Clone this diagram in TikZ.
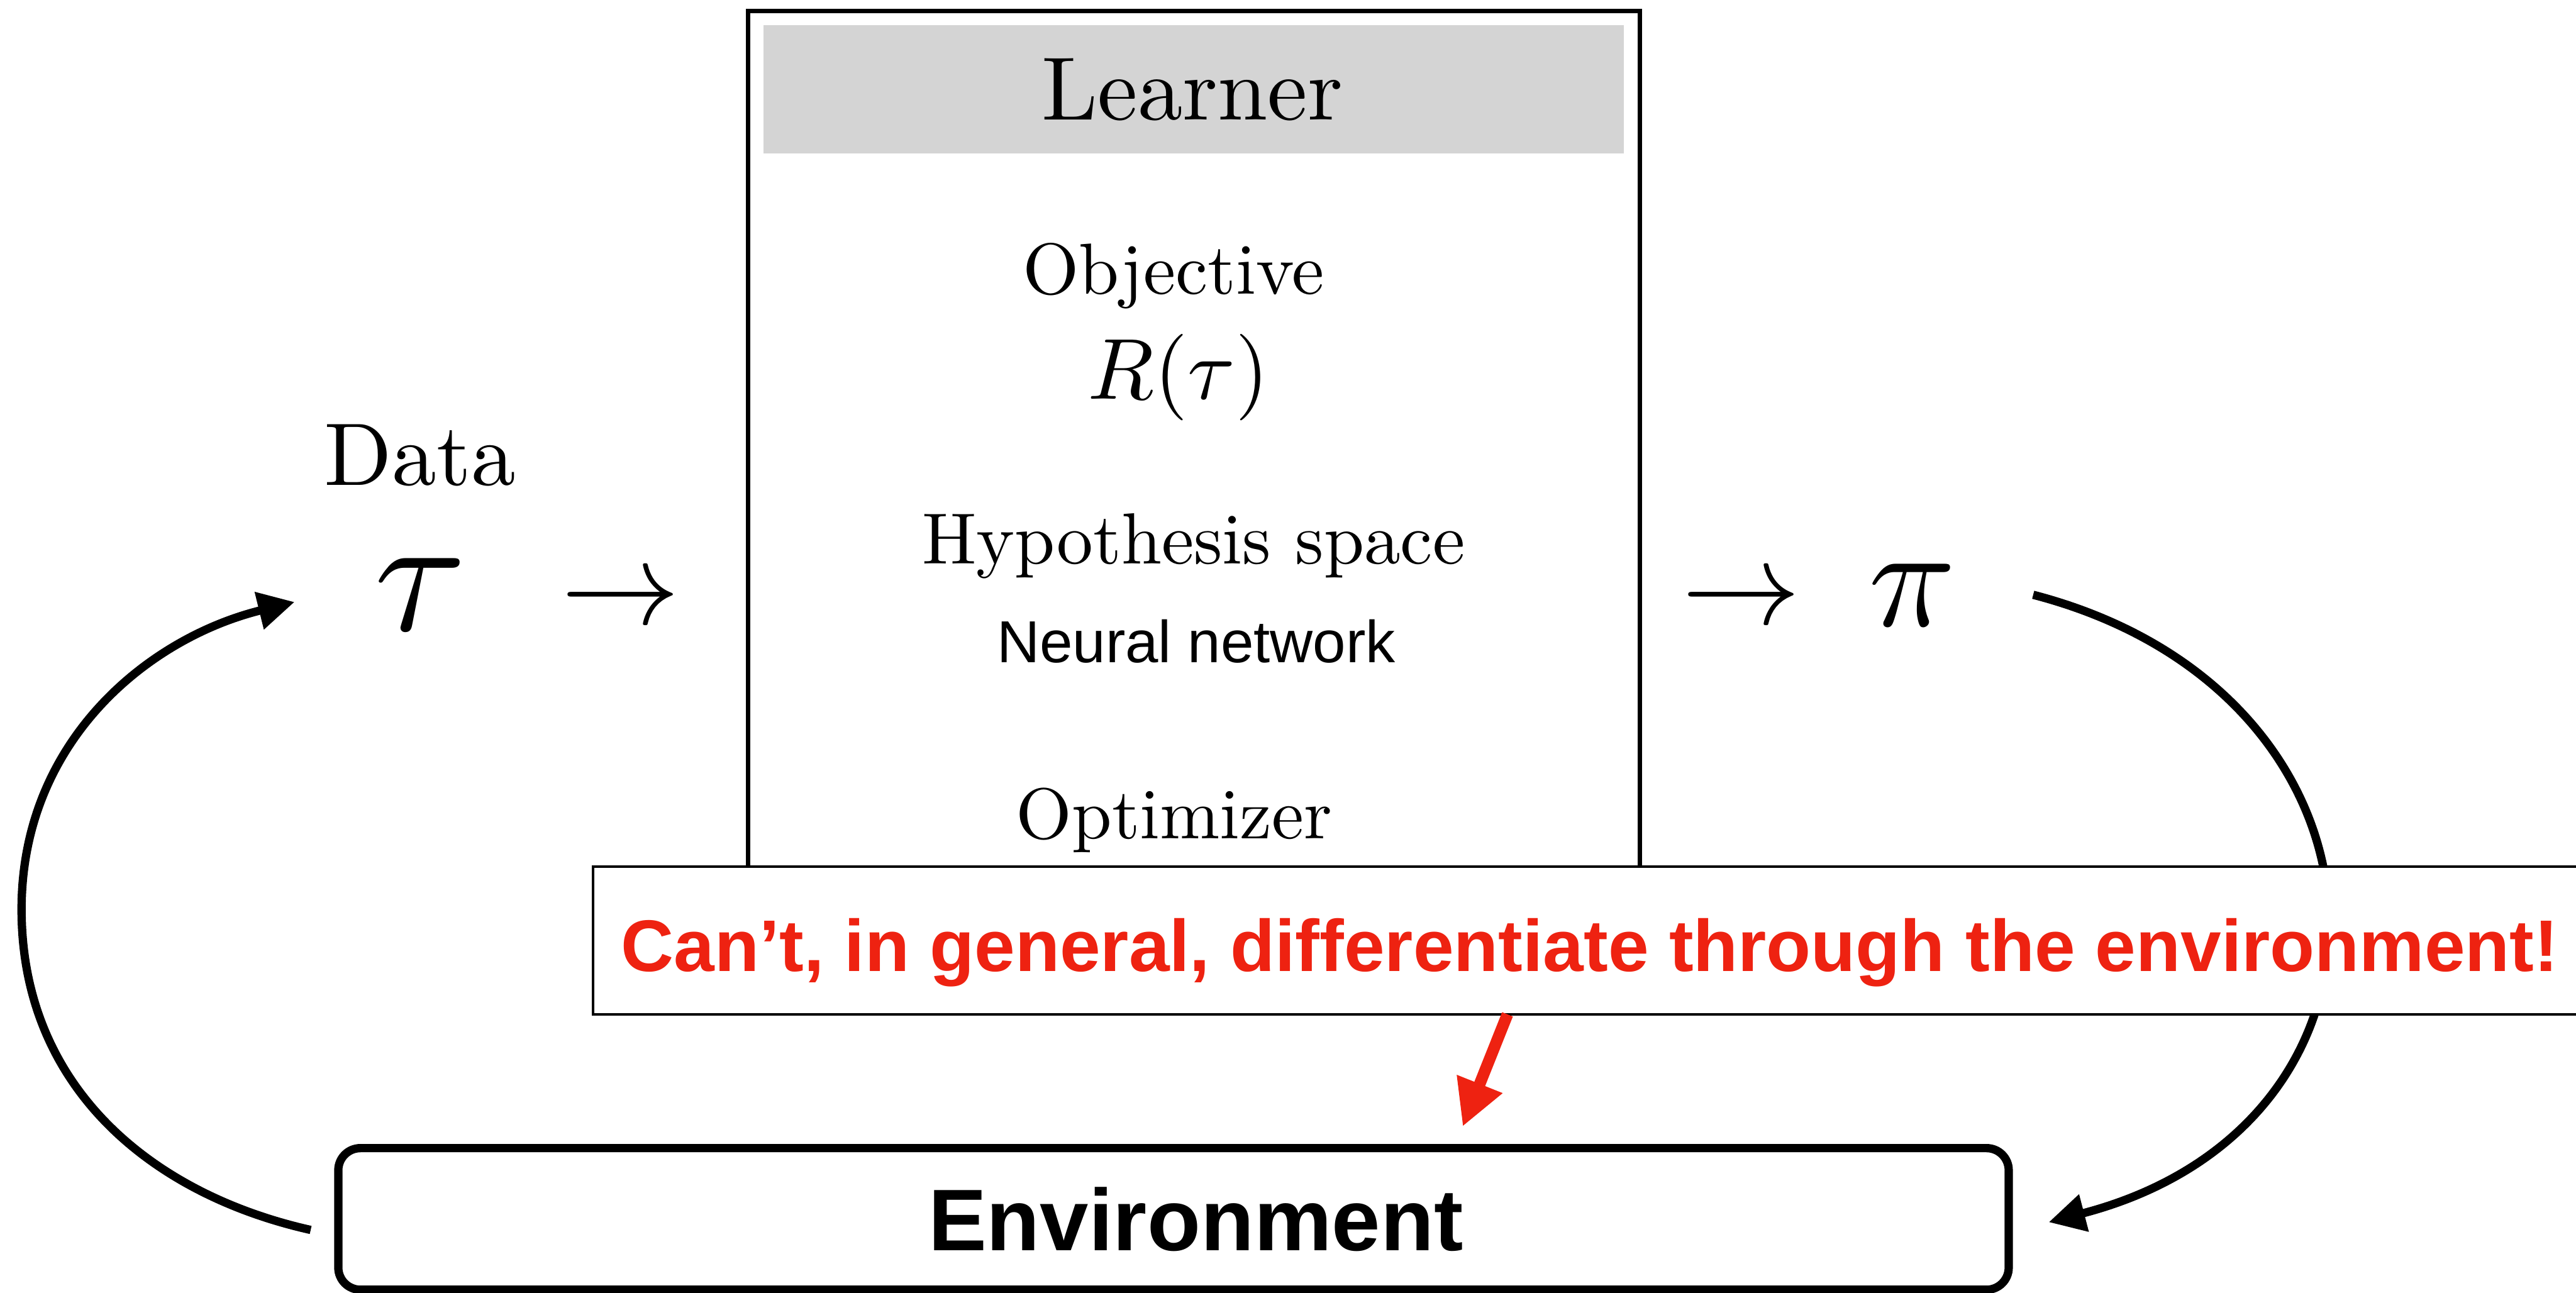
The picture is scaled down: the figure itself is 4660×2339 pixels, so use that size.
\documentclass[tikz,border=0pt]{standalone}
\usepackage{graphicx}
\usepackage{fontspec}
\newfontfamily\helv{Liberation Sans}
\usetikzlibrary{arrows.meta}
\definecolor{alarm}{RGB}{238,34,17}
\definecolor{headgray}{RGB}{212,212,212}

\begin{document}
\begin{tikzpicture}[x=0.01cm, y=-0.01cm,
  txt/.style={inner sep=0pt, outer sep=0pt, anchor=base},
  frame/.style={draw, outer sep=0pt, inner sep=0pt, anchor=north west},
  loop/.style={line width=0.15cm, -{Triangle[length=0.66cm,width=0.66cm]}},
  warnarrow/.style={line width=0.21cm, alarm, -{Triangle[length=0.83cm,width=0.83cm]}},
]
\clip (0,0) rectangle (4660,2339);
\fill[white] (0,0) rectangle (4660,2339);

% Learner block with its grey header
\node[frame, line width=0.08cm, minimum width=16.13cm, minimum height=17cm] (learner) at (1353,20) {};
\node[anchor=north west, fill=headgray, minimum width=15.56cm, minimum height=2.31cm,
      inner sep=0pt, outer sep=0pt] (head) at (1381,46) {};
\node[txt] (title) at (2157,217) {\scalebox{4.62}{Learner}};

\node[txt] (objective) at (2123,532) {\scalebox{3.72}{Objective}};
\node[txt] (reward) at (2132,722) {\scalebox{4.45}{$R(\tau)$}};
\node[txt] (hyp) at (2159,1020) {\scalebox{3.73}{Hypothesis space}};
\node[txt] (nn) at (2164,1198) {\helv\fontsize{30.5}{36}\selectfont Neural network};
\node[txt] (optim) at (2124,1517) {\scalebox{3.7}{Optimizer}};

% data in, policy out
\node[txt] (data) at (760,878) {\scalebox{4.57}{Data}};
\node[txt] (tau) at (761,1140) {\scalebox{8.6}{$\tau$}};
\node[txt] (arrin) at (1123,1129) {\scalebox{6.1}{$\rightarrow$}};
\node[txt] (arrout) at (3150,1129) {\scalebox{6.1}{$\rightarrow$}};
\node[txt] (pi) at (3459,1133) {\scalebox{7.4}{$\pi$}};

% loop end points
\coordinate (piOut) at (3678,1076);
\coordinate (envIn) at (3706,2211);
\coordinate (envOut) at (562,2225);
\coordinate (leftBend) at (39,1645);
\coordinate (tauIn) at (533,1089);

\draw[loop] (piOut) .. controls (4362,1254) and (4390,2033) .. (envIn);
\draw[loop] (envOut) .. controls (272,2160) and (39,1965) .. (leftBend)
            .. controls (39,1340) and (269,1154) .. (tauIn);

% warning banner
\node[frame, fill=white, line width=0.05cm, minimum width=36.3cm, minimum height=2.67cm] (note) at (1073,1568) {};
\node[txt, text=alarm] (notetext) at (2876,1757)
  {\helv\bfseries\fontsize{37.6}{45}\selectfont Can’t, in general, differentiate through the environment!};

\coordinate (noteOut) at (2727,1835);
\coordinate (noteTip) at (2646,2038);
\draw[warnarrow] (noteOut) -- (noteTip);

% environment
\node[frame, line width=0.15cm, rounded corners=0.4cm, minimum width=30.2cm, minimum height=2.56cm] (env) at (612,2077) {};
\node[txt] (envtext) at (2163,2262) {\helv\bfseries\fontsize{45}{54}\selectfont Environment};
\end{tikzpicture}
\end{document}
